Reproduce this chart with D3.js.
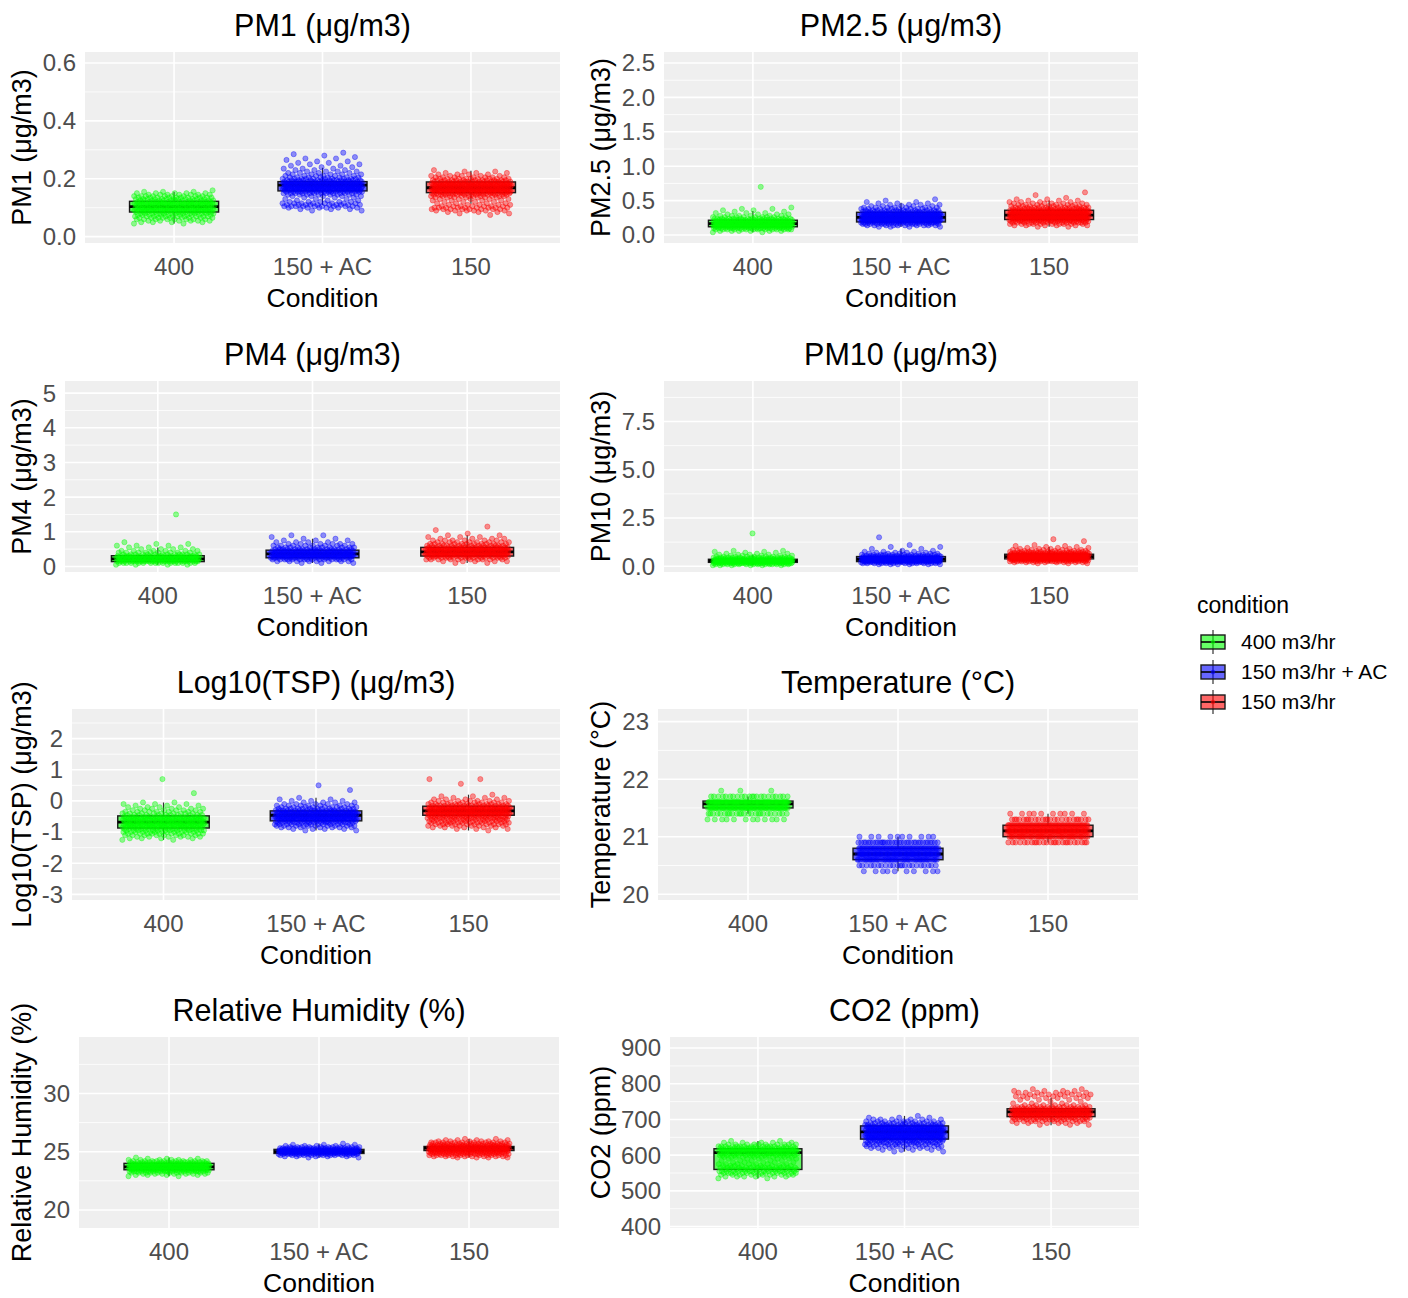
<!DOCTYPE html>
<html>
<head>
<meta charset="utf-8">
<script src="https://cdn.jsdelivr.net/npm/d3@7"></script>
<style>
  body { margin: 0; background: #ffffff; }
  text { font-family: "Liberation Sans", Arial, sans-serif; }
</style>
</head>
<body>
<svg id="chart" width="1408" height="1298"></svg>
<script>
// ---- categories and labels ----
const categories = ["400", "150 + AC", "150"];
const conditionLabels = ["400 m3/hr", "150 m3/hr + AC", "150 m3/hr"];
const legendTitle = "condition";
const xAxisTitle = "Condition";

const panelTitles = [
  "PM1 (μg/m3)", "PM2.5 (μg/m3)", "PM4 (μg/m3)", "PM10 (μg/m3)",
  "Log10(TSP) (μg/m3)", "Temperature (°C)", "Relative Humidity (%)", "CO2 (ppm)"
];
const yAxisTitles = [
  "PM1 (μg/m3)", "PM2.5 (μg/m3)", "PM4 (μg/m3)", "PM10 (μg/m3)",
  "Log10(TSP) (μg/m3)", "Temperature (°C)", "Relative Humidity (%)", "CO2 (ppm)"
];

// ---- y axis ranges and ticks ----
const yDomains = [
  [-0.022, 0.638], [-0.116, 2.66], [-0.16, 5.35], [-0.3, 9.6],
  [-3.18, 2.95], [19.9, 23.22], [18.45, 34.85], [396, 931]
];
const yTickValues = [
  [0, 0.2, 0.4, 0.6],
  [0, 0.5, 1, 1.5, 2, 2.5],
  [0, 1, 2, 3, 4, 5],
  [0, 2.5, 5, 7.5],
  [-3, -2, -1, 0, 1, 2],
  [20, 21, 22, 23],
  [20, 25, 30],
  [400, 500, 600, 700, 800, 900]
];
const yTickLabels = [
  ["0.0", "0.2", "0.4", "0.6"],
  ["0.0", "0.5", "1.0", "1.5", "2.0", "2.5"],
  ["0", "1", "2", "3", "4", "5"],
  ["0.0", "2.5", "5.0", "7.5"],
  ["-3", "-2", "-1", "0", "1", "2"],
  ["20", "21", "22", "23"],
  ["20", "25", "30"],
  ["400", "500", "600", "700", "800", "900"]
];

// ---- box statistics per condition: [lower whisker, Q1, median, Q3, upper whisker] ----
const pm1Box  = [[0.045, 0.085, 0.104, 0.122, 0.155], [0.11, 0.158, 0.178, 0.19, 0.238], [0.114, 0.152, 0.169, 0.189, 0.228]];
const pm25Box = [[0.04, 0.12, 0.165, 0.215, 0.35], [0.12, 0.19, 0.255, 0.33, 0.47], [0.12, 0.225, 0.29, 0.36, 0.5]];
const pm4Box  = [[0.05, 0.14, 0.22, 0.31, 0.55], [0.1, 0.25, 0.36, 0.47, 0.8], [0.1, 0.3, 0.42, 0.55, 0.9]];
const pm10Box = [[0.05, 0.2, 0.28, 0.36, 0.6], [0.1, 0.24, 0.36, 0.5, 0.9], [0.15, 0.38, 0.5, 0.62, 1.0]];
const tspBox  = [[-1.25, -0.87, -0.68, -0.48, -0.05], [-0.95, -0.64, -0.46, -0.32, 0.1], [-0.95, -0.46, -0.32, -0.17, 0.2]];
const tempBox = [[21.4, 21.5, 21.57, 21.62, 21.7], [20.4, 20.6, 20.7, 20.8, 21.0], [20.9, 21.0, 21.1, 21.2, 21.4]];
const rhBox   = [[22.9, 23.45, 23.7, 24.0, 24.5], [24.5, 24.85, 25.0, 25.2, 25.7], [24.5, 25.1, 25.3, 25.45, 26.1]];
const co2Box  = [[535, 560, 607, 618, 640], [610, 645, 665, 682, 710], [684, 708, 721, 730, 761]];

// ---- observations per condition, as [value, count] ----
const pm1Points = [
  [[0.045,2],[0.05,4],[0.055,6],[0.06,8],[0.065,9],[0.07,10],[0.075,11],[0.08,13],[0.085,15],[0.09,16],[0.095,17],[0.1,18],[0.105,18],[0.11,17],[0.115,16],[0.12,15],[0.125,13],[0.13,12],[0.135,10],[0.14,9],[0.145,7],[0.15,5],[0.155,3],[0.16,1]],
  [[0.09,2],[0.095,3],[0.1,6],[0.105,9],[0.11,10],[0.115,8],[0.12,5],[0.125,3],[0.13,3],[0.135,3],[0.14,5],[0.145,8],[0.15,12],[0.155,16],[0.16,20],[0.165,22],[0.17,24],[0.175,25],[0.18,24],[0.185,22],[0.19,18],[0.195,14],[0.2,10],[0.205,8],[0.21,6],[0.215,5],[0.22,4],[0.225,4],[0.23,3],[0.235,3],[0.24,2],[0.245,2],[0.25,2],[0.255,2],[0.26,2],[0.265,1],[0.27,2],[0.275,1],[0.28,1],[0.285,1],[0.29,1]],
  [[0.075,1],[0.08,2],[0.085,3],[0.09,6],[0.095,8],[0.1,9],[0.105,7],[0.11,5],[0.115,4],[0.12,4],[0.125,4],[0.13,5],[0.135,7],[0.14,10],[0.145,14],[0.15,18],[0.155,20],[0.16,22],[0.165,24],[0.17,24],[0.175,23],[0.18,21],[0.185,18],[0.19,15],[0.195,12],[0.2,9],[0.205,7],[0.21,5],[0.215,4],[0.22,3],[0.225,2],[0.23,1]]
];
const pm25Points = [
  [[0.04,2],[0.06,6],[0.08,14],[0.1,22],[0.12,28],[0.14,32],[0.16,32],[0.18,30],[0.2,26],[0.22,20],[0.24,14],[0.26,9],[0.28,6],[0.3,4],[0.32,3],[0.34,2],[0.36,2],[0.38,2],[0.4,1],[0.7,1]],
  [[0.12,4],[0.14,10],[0.16,16],[0.18,22],[0.2,26],[0.22,28],[0.24,30],[0.26,30],[0.28,28],[0.3,24],[0.32,20],[0.34,16],[0.36,12],[0.38,9],[0.4,7],[0.42,5],[0.44,4],[0.46,3],[0.48,2],[0.5,1],[0.52,1]],
  [[0.12,2],[0.14,6],[0.16,10],[0.18,14],[0.2,18],[0.22,22],[0.24,25],[0.26,27],[0.28,28],[0.3,28],[0.32,26],[0.34,24],[0.36,20],[0.38,16],[0.4,12],[0.42,9],[0.44,7],[0.46,6],[0.48,4],[0.5,3],[0.52,2],[0.54,1],[0.58,1],[0.62,1]]
];
const pm4Points = [
  [[0.05,4],[0.1,16],[0.15,30],[0.2,36],[0.25,32],[0.3,24],[0.35,14],[0.4,9],[0.45,6],[0.5,4],[0.55,3],[0.6,3],[0.65,2],[0.7,1],[1.5,1]],
  [[0.1,3],[0.15,8],[0.2,16],[0.25,24],[0.3,30],[0.35,32],[0.4,28],[0.45,22],[0.5,16],[0.55,11],[0.6,8],[0.65,6],[0.7,4],[0.75,3],[0.8,2],[0.85,1],[0.9,2]],
  [[0.1,2],[0.15,5],[0.2,10],[0.25,16],[0.3,22],[0.35,26],[0.4,28],[0.45,28],[0.5,25],[0.55,20],[0.6,15],[0.65,11],[0.7,8],[0.75,6],[0.8,4],[0.85,3],[0.9,2],[0.95,1],[1.05,1],[1.15,1]]
];
const pm10Points = [
  [[0.05,6],[0.1,14],[0.15,24],[0.2,30],[0.25,32],[0.3,30],[0.35,24],[0.4,18],[0.45,12],[0.5,8],[0.55,5],[0.6,4],[0.65,3],[0.7,2],[0.75,2],[0.8,2],[1.7,1]],
  [[0.1,6],[0.15,12],[0.2,20],[0.25,26],[0.3,30],[0.35,30],[0.4,28],[0.45,24],[0.5,18],[0.55,13],[0.6,9],[0.65,6],[0.7,4],[0.75,3],[0.8,2],[0.9,2],[1.0,2],[1.1,1],[1.5,1]],
  [[0.15,3],[0.2,8],[0.25,14],[0.3,20],[0.35,25],[0.4,28],[0.45,30],[0.5,30],[0.55,28],[0.6,24],[0.65,19],[0.7,14],[0.75,10],[0.8,7],[0.85,5],[0.9,4],[0.95,3],[1.0,2],[1.05,2],[1.1,1],[1.3,1],[1.4,1]]
];
const tspPoints = [
  [[-1.25,2],[-1.2,4],[-1.15,6],[-1.1,8],[-1.05,10],[-1.0,12],[-0.95,14],[-0.9,16],[-0.85,18],[-0.8,20],[-0.75,21],[-0.7,21],[-0.65,20],[-0.6,18],[-0.55,16],[-0.5,14],[-0.45,11],[-0.4,9],[-0.35,7],[-0.3,6],[-0.25,5],[-0.2,4],[-0.15,3],[-0.1,3],[-0.05,2],[0.25,1],[0.7,1]],
  [[-0.95,2],[-0.9,4],[-0.85,7],[-0.8,10],[-0.75,13],[-0.7,16],[-0.65,19],[-0.6,21],[-0.55,23],[-0.5,24],[-0.45,24],[-0.4,22],[-0.35,19],[-0.3,16],[-0.25,12],[-0.2,9],[-0.15,7],[-0.1,5],[-0.05,4],[0.0,3],[0.05,2],[0.1,1],[0.35,1],[0.5,1]],
  [[-0.95,1],[-0.9,3],[-0.85,5],[-0.8,8],[-0.75,10],[-0.7,12],[-0.65,13],[-0.6,14],[-0.55,16],[-0.5,18],[-0.45,20],[-0.4,22],[-0.35,24],[-0.3,24],[-0.25,22],[-0.2,19],[-0.15,15],[-0.1,11],[-0.05,8],[0.0,6],[0.05,4],[0.1,3],[0.15,2],[0.2,1],[0.55,1],[0.7,2]]
];
const tempPoints = [
  [[21.3,12],[21.4,25],[21.5,70],[21.6,80],[21.7,22],[21.8,3]],
  [[20.4,10],[20.5,22],[20.6,50],[20.7,70],[20.8,55],[20.9,35],[21.0,10]],
  [[20.9,25],[21.0,45],[21.1,70],[21.2,55],[21.3,25],[21.4,10]]
];
const rhPoints = [
  [[22.9,2],[23.0,4],[23.1,7],[23.2,11],[23.3,16],[23.4,20],[23.5,24],[23.6,26],[23.7,27],[23.8,26],[23.9,23],[24.0,19],[24.1,14],[24.2,10],[24.3,6],[24.4,3],[24.5,1]],
  [[24.5,2],[24.6,5],[24.7,12],[24.8,20],[24.9,28],[25.0,32],[25.1,30],[25.2,25],[25.3,18],[25.4,10],[25.5,5],[25.6,3],[25.7,1]],
  [[24.5,4],[24.6,8],[24.7,12],[24.8,15],[24.9,18],[25.0,20],[25.1,22],[25.2,24],[25.3,24],[25.4,22],[25.5,20],[25.6,17],[25.7,13],[25.8,9],[25.9,6],[26.0,4],[26.1,2]]
];
const co2Points = [
  [[535,2],[540,6],[545,10],[550,14],[555,16],[560,16],[565,14],[570,10],[575,7],[580,5],[585,5],[590,6],[595,10],[600,16],[605,22],[610,26],[615,26],[620,22],[625,16],[630,10],[635,5],[640,2]],
  [[610,2],[615,4],[620,7],[625,10],[630,13],[635,16],[640,19],[645,22],[650,24],[655,26],[660,27],[665,27],[670,26],[675,24],[680,21],[685,17],[690,13],[695,9],[700,6],[705,3],[710,1]],
  [[685,3],[690,6],[695,10],[700,14],[705,18],[710,22],[715,26],[720,28],[725,26],[730,20],[735,13],[740,7],[745,3],[750,2],[755,3],[760,5],[765,6],[770,7],[775,6],[780,4],[785,2]]
];

const panelBoxes = [pm1Box, pm25Box, pm4Box, pm10Box, tspBox, tempBox, rhBox, co2Box];
const panelPoints = [pm1Points, pm25Points, pm4Points, pm10Points, tspPoints, tempPoints, rhPoints, co2Points];

// ---- styling ----
const colors = ["#00FF00", "#0000FF", "#FF0000"];
const panelBg = "#EFEFEF";
const tickColor = "#4D4D4D";

// ---- layout ----
const rowTop = [52, 381, 709, 1037];
const panelH = 191;
const panelX = [
  [85, 560], [664, 1138],
  [65, 560], [664, 1138],
  [72, 560], [658, 1138],
  [79, 559], [670, 1139]
];
const yTitleX = [22, 601];
const boxWidth = 0.6;    // fraction of category spacing
const jitterWidth = 0.27; // half-width, fraction of category spacing
const pointR = 2.6;

const svg = d3.select("#chart");

function drawPanel(i) {
  const [x0, x1] = panelX[i];
  const y0 = rowTop[Math.floor(i / 2)];
  const y1 = y0 + panelH;
  const col = i % 2;

  const x = d3.scalePoint().domain(categories).range([x0, x1]).padding(0.6);
  const step = x.step();
  const y = d3.scaleLinear().domain(yDomains[i]).range([y1, y0]);

  const g = svg.append("g");

  // panel background
  g.append("rect").attr("x", x0).attr("y", y0)
    .attr("width", x1 - x0).attr("height", panelH).attr("fill", panelBg);

  // minor gridlines halfway between major ticks
  const ticks = yTickValues[i];
  const tStep = ticks[1] - ticks[0];
  const [dLo, dHi] = yDomains[i];
  const minors = [];
  for (let v = ticks[0] - tStep / 2; v <= dHi; v += tStep) {
    if (v >= dLo) minors.push(v);
  }
  g.selectAll(".minor").data(minors).enter().append("line")
    .attr("x1", x0).attr("x2", x1)
    .attr("y1", d => y(d)).attr("y2", d => y(d))
    .attr("stroke", "#ffffff").attr("stroke-width", 0.8);

  // major gridlines
  g.selectAll(".major").data(ticks).enter().append("line")
    .attr("x1", x0).attr("x2", x1)
    .attr("y1", d => y(d)).attr("y2", d => y(d))
    .attr("stroke", "#ffffff").attr("stroke-width", 1.6);
  g.selectAll(".vmajor").data(categories).enter().append("line")
    .attr("x1", d => x(d)).attr("x2", d => x(d))
    .attr("y1", y0).attr("y2", y1)
    .attr("stroke", "#ffffff").attr("stroke-width", 1.6);

  // boxplots
  const boxes = panelBoxes[i];
  categories.forEach((c, k) => {
    const [lo, q1, med, q3, hi] = boxes[k];
    const cx = x(c);
    const hw = boxWidth * step / 2;
    g.append("line").attr("x1", cx).attr("x2", cx)
      .attr("y1", y(q3)).attr("y2", y(hi))
      .attr("stroke", "#333333").attr("stroke-width", 1.2);
    g.append("line").attr("x1", cx).attr("x2", cx)
      .attr("y1", y(q1)).attr("y2", y(lo))
      .attr("stroke", "#333333").attr("stroke-width", 1.2);
    g.append("rect").attr("x", cx - hw).attr("y", y(q3))
      .attr("width", 2 * hw).attr("height", Math.max(1, y(q1) - y(q3)))
      .attr("fill", colors[k]).attr("fill-opacity", 0.6)
      .attr("stroke", "#1a1a1a").attr("stroke-width", 1.4);
    g.append("line").attr("x1", cx - hw).attr("x2", cx + hw)
      .attr("y1", y(med)).attr("y2", y(med))
      .attr("stroke", "#000000").attr("stroke-width", 2.8);
  });

  // jittered observations
  const pts = panelPoints[i];
  categories.forEach((c, k) => {
    const values = pts[k].flatMap(([v, n]) => d3.range(n).map(() => v));
    const cx = x(c);
    g.selectAll(null).data(values).enter().append("circle")
      .attr("cx", (d, j) => cx + (((j * 0.6180339887 + k * 0.37) % 1) - 0.5) * 2 * jitterWidth * step)
      .attr("cy", d => y(d))
      .attr("r", pointR)
      .attr("fill", colors[k]).attr("fill-opacity", 0.42)
      .attr("stroke", colors[k]).attr("stroke-opacity", 0.42).attr("stroke-width", 0.8);
  });

  // y tick labels
  g.selectAll(".ylab").data(ticks).enter().append("text")
    .attr("x", x0 - 9).attr("y", d => y(d)).attr("dy", "0.35em")
    .attr("text-anchor", "end").attr("font-size", 24).attr("fill", tickColor)
    .text((d, j) => yTickLabels[i][j]);

  // x tick labels
  g.selectAll(".xlab").data(categories).enter().append("text")
    .attr("x", d => x(d)).attr("y", y1 + 24).attr("dy", "0.35em")
    .attr("text-anchor", "middle").attr("font-size", 24).attr("fill", tickColor)
    .text(d => d);

  // axis titles
  g.append("text").attr("x", (x0 + x1) / 2).attr("y", y1 + 55).attr("dy", "0.35em")
    .attr("text-anchor", "middle").attr("font-size", 26.5).attr("fill", "#000")
    .text(xAxisTitle);
  const yc = (y0 + y1) / 2;
  g.append("text")
    .attr("transform", `translate(${yTitleX[col]},${yc}) rotate(-90)`)
    .attr("dy", "0.35em").attr("text-anchor", "middle")
    .attr("font-size", 27).attr("fill", "#000")
    .text(yAxisTitles[i]);

  // panel title
  g.append("text").attr("x", (x0 + x1) / 2).attr("y", y0 - 27).attr("dy", "0.35em")
    .attr("text-anchor", "middle").attr("font-size", 30.5).attr("fill", "#000")
    .text(panelTitles[i]);
}

d3.range(8).forEach(drawPanel);

// ---- legend ----
const legend = svg.append("g");
legend.append("text").attr("x", 1197).attr("y", 605).attr("dy", "0.35em")
  .attr("font-size", 23).attr("fill", "#000").text(legendTitle);
conditionLabels.forEach((lab, k) => {
  const cy = 642 + k * 30;
  const cx = 1213;
  legend.append("line").attr("x1", cx).attr("x2", cx).attr("y1", cy - 12).attr("y2", cy + 12)
    .attr("stroke", "#333333").attr("stroke-width", 1.2);
  legend.append("rect").attr("x", cx - 12).attr("y", cy - 7).attr("width", 24).attr("height", 14)
    .attr("fill", colors[k]).attr("fill-opacity", 0.6)
    .attr("stroke", "#1a1a1a").attr("stroke-width", 1.4);
  legend.append("line").attr("x1", cx - 12).attr("x2", cx + 12).attr("y1", cy).attr("y2", cy)
    .attr("stroke", "#000").attr("stroke-width", 1.6);
  legend.append("circle").attr("cx", cx).attr("cy", cy).attr("r", 2.2)
    .attr("fill", colors[k]).attr("fill-opacity", 0.6);
  legend.append("text").attr("x", 1241).attr("y", cy).attr("dy", "0.35em")
    .attr("font-size", 21).attr("fill", "#000").text(lab);
});
</script>
</body>
</html>
